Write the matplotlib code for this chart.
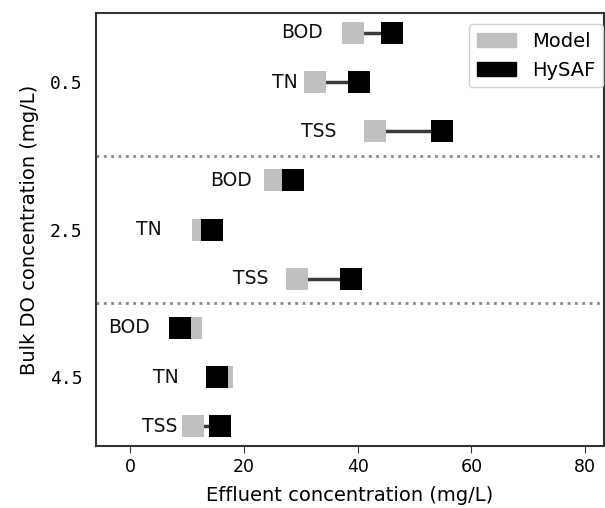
import matplotlib
matplotlib.use("Agg")
import matplotlib.pyplot as plt
from matplotlib.patches import Patch

# Bulk DO groups and parameters (top to bottom)
do_levels = ["0.5", "2.5", "4.5"]
params = ["BOD", "TN", "TSS"]

# Effluent concentrations (mg/L), one row per DO level
model = [
    [39.1, 32.5, 43.0],
    [25.5, 12.8, 29.3],
    [10.7, 16.2, 11.1],
]
hysaf = [
    [46.1, 40.2, 54.9],
    [28.7, 14.3, 38.8],
    [8.8, 15.3, 15.8],
]

# where the parameter names end (right edge, data units)
label_x = [
    [33.8, 29.5, 36.2],
    [21.4, 5.5, 24.3],
    [3.5, 8.6, 8.2],
]

GREY = "#bfbfbf"
LINE = "#3a3a3a"


def main():
    fig, ax = plt.subplots(figsize=(6.05, 5.08), dpi=100)
    fig.subplots_adjust(left=0.159, right=0.998, top=0.974, bottom=0.122)

    n = len(params)
    for g in range(len(do_levels)):
        for p in range(n):
            y = g * n + p
            m, h = model[g][p], hysaf[g][p]
            ax.plot([m, h], [y, y], color=LINE, lw=2.5, zorder=1)
            ax.plot(m, y, "s", ms=15.5, mew=0, color=GREY, zorder=2)
            ax.plot(h, y, "s", ms=15.5, mew=0, color="black", zorder=3)
            ax.text(label_x[g][p], y, params[p], ha="right", va="center",
                    fontsize=13.5, color="#111111")

    # dotted separators between groups
    for g in range(1, len(do_levels)):
        ax.axhline(g * n - 0.5, color="#888888", ls=":", lw=2, zorder=0)

    ax.set_xlim(-6, 83.3)
    ax.set_ylim(len(do_levels) * n - 0.6, -0.4)
    ax.set_xticks([0, 20, 40, 60, 80])
    ax.set_yticks([g * n + 1 for g in range(len(do_levels))])
    ax.set_yticklabels(do_levels, family="DejaVu Sans Mono")
    ax.tick_params(axis="y", length=0, pad=10, labelsize=13)
    ax.tick_params(axis="x", labelsize=12.5, length=5, color="#333333")
    for s in ax.spines.values():
        s.set_color("#333333")
        s.set_linewidth(1.5)

    ax.set_xlabel("Effluent concentration (mg/L)", fontsize=14, labelpad=7)
    ax.set_ylabel("Bulk DO concentration (mg/L)", fontsize=14, labelpad=8)

    handles = [Patch(color=GREY, label="Model"), Patch(color="black", label="HySAF")]
    leg = ax.legend(handles=handles, loc="upper right", fontsize=14,
                    bbox_to_anchor=(1.0, 0.977), borderaxespad=0.05,
                    framealpha=1)
    leg.get_frame().set_edgecolor("#d0d0d0")

    fig.savefig("out.png")


if __name__ == "__main__":
    main()
